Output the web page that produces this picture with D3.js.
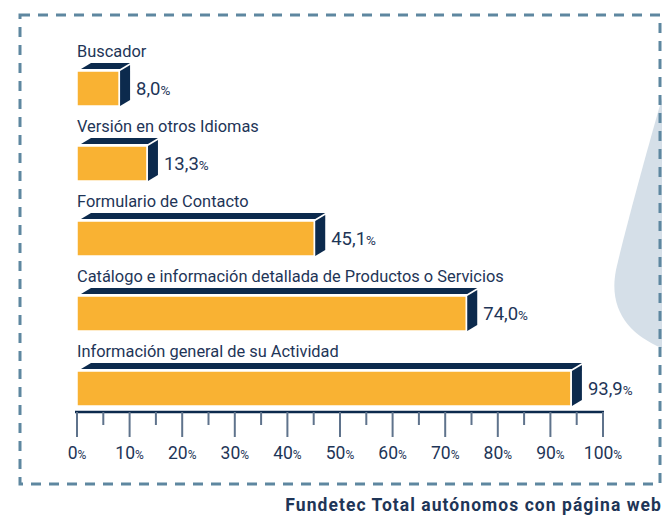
<!DOCTYPE html>
<html>
<head>
<meta charset="utf-8">
<script src="https://cdn.jsdelivr.net/npm/d3@7"></script>
<style>
  body { margin: 0; background: #fff; }
  svg { display: block; font-family: "Roboto", "Liberation Sans", sans-serif; }
</style>
</head>
<body>
<div id="chart"></div>
<script>
// data
const categories = [
    "Buscador",
    "Versión en otros Idiomas",
    "Formulario de Contacto",
    "Catálogo e información detallada de Productos o Servicios",
    "Información general de su Actividad"
];
const values = [8.0, 13.3, 45.1, 74.0, 93.9];
const ticks = [0, 10, 20, 30, 40, 50, 60, 70, 80, 90, 100];
const minorTicks = [5, 15, 25, 35, 45, 55, 65, 75, 85, 95];
const source = "Fundetec Total autónomos con página web";

const width = 665, height = 517;
const orange = "#F9B233", navy = "#0C2A4D", textColor = "#1E3557";

const svg = d3.select("#chart").append("svg")
    .attr("width", width)
    .attr("height", height);

// light shape on the right
svg.append("path")
    .attr("d", "M662,98 C650,140 625,230 616,270 C608,310 630,335 662,348 Z")
    .attr("fill", "#D5DFE8");

// dashed frame
svg.append("rect")
    .attr("x", 20).attr("y", 15)
    .attr("width", 640).attr("height", 469)
    .attr("fill", "none")
    .attr("stroke", "#5E87A0")
    .attr("stroke-width", 3)
    .attr("stroke-dasharray", "10,8");

var x = d3.scaleLinear().domain([0, 100]).range([77, 603]);
var y = d3.scaleBand().domain(categories).range([50, 425]);

const barH = 35, dx = 10, dy = 6;

var rows = svg.selectAll(".row")
    .data(categories.map((c, i) => ({ name: c, value: values[i] })))
    .enter()
    .append("g")
    .attr("class", "row");

rows.append("text")
    .attr("x", x(0))
    .attr("y", d => y(d.name) + 7)
    .attr("fill", textColor)
    .attr("font-size", 16.4)
    .text(d => d.name);

// top face
rows.append("path")
    .attr("d", function(d) {
        let fy = y(d.name) + 21, x0 = x(0) + 4, xe = x(d.value);
        return "M" + x0 + "," + (fy - 2) + "L" + (x0 + dx) + "," + (fy - 2 - dy) +
            "L" + (xe + dx + 1) + "," + (fy - 2 - dy) + "L" + (xe + 1) + "," + (fy - 2) + "Z";
    })
    .attr("fill", navy);

// side face
rows.append("path")
    .attr("d", function(d) {
        let fy = y(d.name) + 21, xe = x(d.value) + 1;
        return "M" + xe + "," + fy + "L" + (xe + dx) + "," + (fy - dy) +
            "L" + (xe + dx) + "," + (fy + barH - dy) + "L" + xe + "," + (fy + barH) + "Z";
    })
    .attr("fill", navy);

// front face
rows.append("rect")
    .attr("x", x(0))
    .attr("y", d => y(d.name) + 21)
    .attr("width", d => x(d.value) - x(0))
    .attr("height", barH)
    .attr("fill", orange)
    .attr("stroke", "#fff")
    .attr("stroke-width", 1.5);

var vlab = rows.append("text")
    .attr("x", d => x(d.value) + dx + 7)
    .attr("y", d => y(d.name) + 21 + 24)
    .attr("fill", textColor)
    .attr("font-size", 18.5);
vlab.append("tspan").text(d => d.value.toFixed(1).replace(".", ","));
vlab.append("tspan").attr("font-size", 13.5).text("%");

// axis
const axisY = 412;
svg.append("line")
    .attr("x1", x(0) - 2).attr("x2", x(100) + 1)
    .attr("y1", axisY).attr("y2", axisY)
    .attr("stroke", navy).attr("stroke-width", 2.5);

svg.selectAll(".major")
    .data(ticks)
    .enter()
    .append("line")
    .attr("x1", d => x(d)).attr("x2", d => x(d))
    .attr("y1", axisY).attr("y2", axisY + 25)
    .attr("stroke", "#5F738C").attr("stroke-width", 2);

svg.selectAll(".minor")
    .data(minorTicks)
    .enter()
    .append("line")
    .attr("x1", d => x(d)).attr("x2", d => x(d))
    .attr("y1", axisY).attr("y2", axisY + 13)
    .attr("stroke", "#5F738C").attr("stroke-width", 2);

var tlab = svg.selectAll(".tick-label")
    .data(ticks)
    .enter()
    .append("text")
    .attr("x", d => x(d))
    .attr("y", axisY + 47)
    .attr("text-anchor", "middle")
    .attr("fill", textColor)
    .attr("font-size", 17.5);
tlab.append("tspan").text(d => d);
tlab.append("tspan").attr("font-size", 12).text("%");

svg.append("text")
    .attr("x", 662)
    .attr("y", 511)
    .attr("text-anchor", "end")
    .attr("font-weight", "bold")
    .attr("font-size", 17.5)
    .attr("letter-spacing", 1.05)
    .attr("fill", textColor)
    .text(source);
</script>
</body>
</html>
